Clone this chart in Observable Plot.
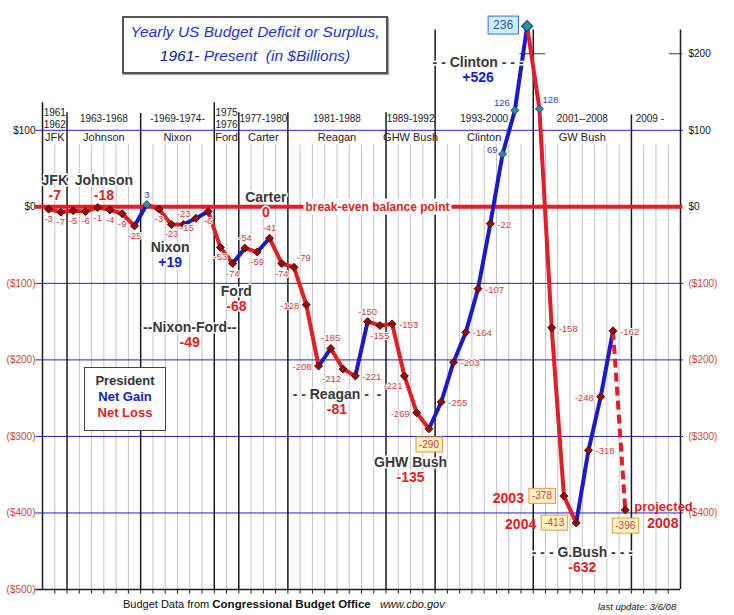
<!DOCTYPE html>
<html><head><meta charset="utf-8">
<script src="https://cdn.jsdelivr.net/npm/d3@7"></script>
<script src="https://cdn.jsdelivr.net/npm/@observablehq/plot@0.6"></script>
<style>
body{margin:0;background:#fff;font-family:"Liberation Sans",Arial,sans-serif;}
#wrap{position:relative;width:734px;height:615px;overflow:hidden;background:#fff;}
#wrap svg{position:absolute;left:0;top:0;}
.title{position:absolute;left:122px;top:16px;width:262px;height:52px;border:2px solid #555;background:#fff;box-shadow:1px 1px 1px #aaa;color:#2233cc;font-style:italic;font-size:15.5px;text-align:center;line-height:24px;padding-top:2px;}
.title b{color:#20208a;font-weight:normal;}
.legend{position:absolute;left:84px;top:367px;width:80px;height:57px;border:1px solid #444;background:#fff;text-align:center;font-weight:bold;font-size:13px;line-height:16px;padding-top:5px;box-sizing:content-box;}
.foot{position:absolute;left:123px;top:598px;font-size:11px;color:#111;white-space:nowrap;}
.upd{position:absolute;left:598px;top:601px;font-size:9.5px;font-style:italic;color:#111;white-space:nowrap;}
</style></head>
<body>
<div id="wrap"></div>
<script>
// ---------------- data ----------------
const years = [1961,1962,1963,1964,1965,1966,1967,1968,1969,1970,1971,1972,1973,1974,1975,1976,1977,1978,1979,1980,1981,1982,1983,1984,1985,1986,1987,1988,1989,1990,1991,1992,1993,1994,1995,1996,1997,1998,1999,2000,2001,2002,2003,2004,2005,2006,2007,2008];
const deficits = [-3,-7,-5,-6,-1,-4,-9,-25,3,-3,-23,-23,-15,-6,-53,-74,-54,-59,-41,-74,-79,-128,-208,-185,-212,-221,-150,-155,-153,-221,-269,-290,-255,-203,-164,-107,-22,69,126,236,128,-158,-378,-413,-318,-248,-162,-396];
const projectedYear = 2008;

// label placement codes (layout only)
const labelSide = ["b","b","b","b","b","b","b","b","t","b","b","t","bl","b","b","b","t","b","t","b","tr","l","l","t","bl","r","t","b","r","bl","l","boxB","r","r","r","r","r","ml","tl","boxL","tr","r","boxL","boxL","r","l","r","boxB"];

const presidents = ["JFK","Johnson","Nixon","Ford","Carter","Reagan","GHW Bush","Clinton","GW Bush"];
const termStart = [1961,1963,1969,1975,1977,1981,1989,1993,2001,2009];
const termEnd   = [1963,1969,1975,1977,1981,1989,1993,2001,2009,2012];
const termLabels = ["1961\n1962","1963-1968","-1969-1974-","1975\n1976","1977-1980","1981-1988","1989-1992","1993-2000","2001--2008","2009 -"];

const annNames  = ["JFK","Johnson","Nixon","Ford","Carter","--Nixon-Ford--","- - Reagan -  -","GHW Bush","- - Clinton - - -","- - - G.Bush - - -"];
const annTotals = ["-7","-18","+19","-68","0","-49","-81","-135","+526","-632"];
const annX = [1962.0,1966.0,1971.4,1976.8,1979.2,1973.0,1985.0,1991.0,1996.5,2005.0];
const annY = [35,35,-53,-110,12,-158,-245,-334,189,-452];

const leftTicks  = [100,0,-100,-200,-300,-400,-500];
const rightTicks = [200,100,0,-100,-200,-300,-400];
const gridValues = [100,-100,-200,-300,-400];

const boundaries = [1961,1963,1969,1975,1977,1981,1989,1993,2001,2009,2013];
const boundaryTop = [136,123,122,136,123,123,123,231,231,120,231];

// ---------------- styles ----------------
const RED="#e41e26", BLUE="#1a1acc", DRED="#8c0e0e", TEAL="#2d9585";
const LRED="#d23c3c", LBLUE="#2f3fc0", DARK="#383838";
const FONT = "Liberation Sans, Arial, sans-serif";

const pts = years.map((y,i)=>({year:y, x:y+0.5, v:deficits[i], side:labelSide[i]}));
const segs = pts.slice(1).map((p,i)=>({x1:pts[i].x, y1:pts[i].v, x2:p.x, y2:p.v, gain:p.v-pts[i].v, proj:p.year===projectedYear}));
const fmt = v => v>=0 ? "$"+v : "($"+(-v)+")";
const lab = v => String(v);

const sideCfg = {
  b:{dx:0,dy:10,a:"middle"}, t:{dx:0,dy:-10,a:"middle"},
  l:{dx:-7,dy:1,a:"end"}, r:{dx:7,dy:1,a:"start"},
  bl:{dx:-2,dy:10,a:"end"}, tl:{dx:-5,dy:-7,a:"end"}, tr:{dx:3,dy:-9,a:"start"},
  ml:{dx:-5,dy:-4,a:"end"}
};

const bIdx = new Set(boundaries);
const grayYears = d3.range(1962,2013).filter(y=>!bIdx.has(y));
const tickYears = d3.range(1962,2013);
const bData = boundaries.map((b,i)=>({x:b, top:boundaryTop[i]}));
const terms = termLabels.map((t,i)=>({t, x:(termStart[i]+termEnd[i])/2}));
const pres = presidents.map((p,i)=>({p, x:(termStart[i]+termEnd[i])/2}));
const anns = annNames.map((n,i)=>({n, tot:annTotals[i], x:annX[i], y:annY[i]}));

const halo = {stroke:"white", strokeWidth:3, paintOrder:"stroke"};

const labelMarks = Object.entries(sideCfg).map(([k,c]) =>
  Plot.text(pts.filter(d=>d.side===k), {x:"x", y:"v", text:d=>lab(d.v), dx:c.dx, dy:c.dy, textAnchor:c.a,
    fill:d=>d.v>0?LBLUE:LRED, fontSize:9.5, stroke:"white", strokeWidth:2, paintOrder:"stroke"}));

const chart = Plot.plot({
  width:734, height:615,
  marginLeft:42, marginRight:54, marginTop:15, marginBottom:26,
  x:{domain:[1961,2013], axis:null},
  y:{domain:[-500,250], axis:null},
  style:{fontFamily:FONT, fontSize:"10px", background:"transparent", overflow:"visible"},
  marks:[
    Plot.ruleX(grayYears, {x:d=>d, y1:-500, y2:81, stroke:"#c4c4c4", strokeWidth:1}),
    Plot.ruleY(gridValues, {y:d=>d, x1:1960.45, x2:2013.25, stroke:"#2424c8", strokeWidth:1}),
    Plot.ruleY([200], {y:d=>d, x1:1999.9, x2:2002.0, stroke:"#2424c8", strokeWidth:1}),
    Plot.ruleY([200], {y:d=>d, x1:2012.1, x2:2013.2, stroke:"#2424c8", strokeWidth:1}),
    Plot.ruleX(bData, {x:"x", y1:-500, y2:"top", stroke:"#1a1a1a", strokeWidth:1.5}),
    Plot.ruleY([-500], {y:d=>d, x1:1960.45, x2:2013, stroke:"#1a1a1a", strokeWidth:1.5}),
    Plot.ruleX(tickYears, {x:d=>d, y1:-500, y2:-506, stroke:"#1a1a1a", strokeWidth:1}),
    Plot.ruleY([0], {y:d=>d, x1:1960.45, x2:2013.2, stroke:RED, strokeWidth:4}),
    Plot.text(["break-even balance point"], {x:1988.3, y:0, text:d=>d, fill:RED, fontWeight:"bold", fontSize:12, ariaDescription:"box-white"}),
    // header
    Plot.text(terms, {x:"x", y:116, text:"t", fill:"#222", fontSize:10, lineHeight:1.25}),
    Plot.text(pres, {x:"x", y:91, text:"p", fill:"#222", fontSize:11}),
    // axes labels
    Plot.text(leftTicks, {y:d=>d, frameAnchor:"left", dx:-7, textAnchor:"end", text:fmt, fill:d=>d<0?"#c84646":"#111", fontSize:10}),
    Plot.text(rightTicks, {y:d=>d, frameAnchor:"right", dx:8, textAnchor:"start", text:fmt, fill:d=>d<0?"#c84646":"#111", fontSize:10}),
    // lines
    Plot.link(segs.filter(d=>!d.proj), {x1:"x1", y1:"y1", x2:"x2", y2:"y2", stroke:d=>d.gain>5?BLUE:RED, strokeWidth:4, strokeLinecap:"round"}),
    Plot.link(segs.filter(d=>d.proj), {x1:"x1", y1:"y1", x2:"x2", y2:"y2", stroke:RED, strokeWidth:4, strokeDasharray:"9,5"}),
    Plot.dot(pts.filter(d=>d.year!==2000), {x:"x", y:"v", symbol:"diamond2", r:3.6, fill:d=>d.v>0?TEAL:DRED, stroke:d=>d.v>0?"#1f3fa0":"#6a0000", strokeWidth:1}),
    Plot.dot(pts.filter(d=>d.year===2000), {x:"x", y:"v", symbol:"diamond2", r:5, fill:TEAL, stroke:"#1f3fa0", strokeWidth:1.2}),
    // labels
    ...labelMarks,
    Plot.text(pts.filter(d=>d.side==="boxB"), {x:"x", y:"v", text:d=>lab(d.v), dy:16, fill:LRED, fontSize:10, ariaDescription:"box-yellow"}),
    Plot.text(pts.filter(d=>d.side==="boxL" && d.v<0), {x:"x", y:"v", text:d=>lab(d.v), dx:-12, textAnchor:"end", fill:LRED, fontSize:10, ariaDescription:"box-yellow"}),
    Plot.text(pts.filter(d=>d.side==="boxL" && d.v>0), {x:"x", y:"v", text:d=>lab(d.v), dx:-14, dy:-1, textAnchor:"end", fill:"#2a55b0", fontSize:12, ariaDescription:"box-blue"}),
    Plot.text(pts.filter(d=>d.year===2003||d.year===2004), {x:"x", y:"v", text:d=>String(d.year), dx:-40, dy:2, textAnchor:"end", fill:RED, fontWeight:"bold", fontSize:14}),
    Plot.text(pts.filter(d=>d.year===projectedYear), {x:"x", y:"v", text:()=>"projected", dx:9, dy:-3, textAnchor:"start", fill:RED, fontWeight:"bold", fontSize:13}),
    Plot.text(pts.filter(d=>d.year===projectedYear), {x:"x", y:"v", text:d=>String(d.year), dx:22, dy:14, textAnchor:"start", fill:RED, fontWeight:"bold", fontSize:14}),
    // president summaries
    Plot.text(anns, {x:"x", y:"y", text:"n", fill:DARK, fontWeight:"bold", fontSize:14, ...halo}),
    Plot.text(anns, {x:"x", y:"y", text:"tot", dy:15, fill:d=>d.tot.startsWith("+")?BLUE:RED, fontWeight:"bold", fontSize:14, ...halo})
  ]
});

const wrap = document.getElementById("wrap");
wrap.appendChild(chart);

function boxify(label, fill, stroke, padX, padY){
  const texts = chart.querySelectorAll(`g[aria-description="${label}"] text`);
  texts.forEach(function(el){
    const b = el.getBBox();
    const r = document.createElementNS("http://www.w3.org/2000/svg","rect");
    r.setAttribute("x", b.x-padX); r.setAttribute("y", b.y-padY);
    r.setAttribute("width", b.width+2*padX); r.setAttribute("height", b.height+2*padY);
    r.setAttribute("fill", fill); r.setAttribute("stroke", stroke);
    r.setAttribute("stroke-width", stroke==="none"?0:1);
    const t = el.getAttribute("transform"); if (t) r.setAttribute("transform", t);
    el.parentNode.insertBefore(r, el);
  });
}
boxify("box-yellow", "#fff3c4", "#e09a3c", 3, 2);
boxify("box-blue", "#cdeeff", "#3a6fd0", 5, 2);
boxify("box-white", "#ffffff", "none", 2, 1);

const title = document.createElement("div");
title.className = "title";
title.innerHTML = "Yearly US Budget Deficit or Surplus,<br><b>1961-</b> Present&nbsp; (in $Billions)";
wrap.appendChild(title);

const legend = document.createElement("div");
legend.className = "legend";
legend.innerHTML = '<div style="color:#333">President</div><div style="color:'+BLUE+'">Net Gain</div><div style="color:'+RED+'">Net Loss</div>';
wrap.appendChild(legend);

const foot = document.createElement("div");
foot.className = "foot";
foot.innerHTML = 'Budget Data from <b style="font-size:11.5px">Congressional Budget Office</b> &nbsp; <i>www.cbo.gov</i>';
wrap.appendChild(foot);

const upd = document.createElement("div");
upd.className = "upd";
upd.textContent = "last update: 3/6/08";
wrap.appendChild(upd);
</script>
</body></html>
